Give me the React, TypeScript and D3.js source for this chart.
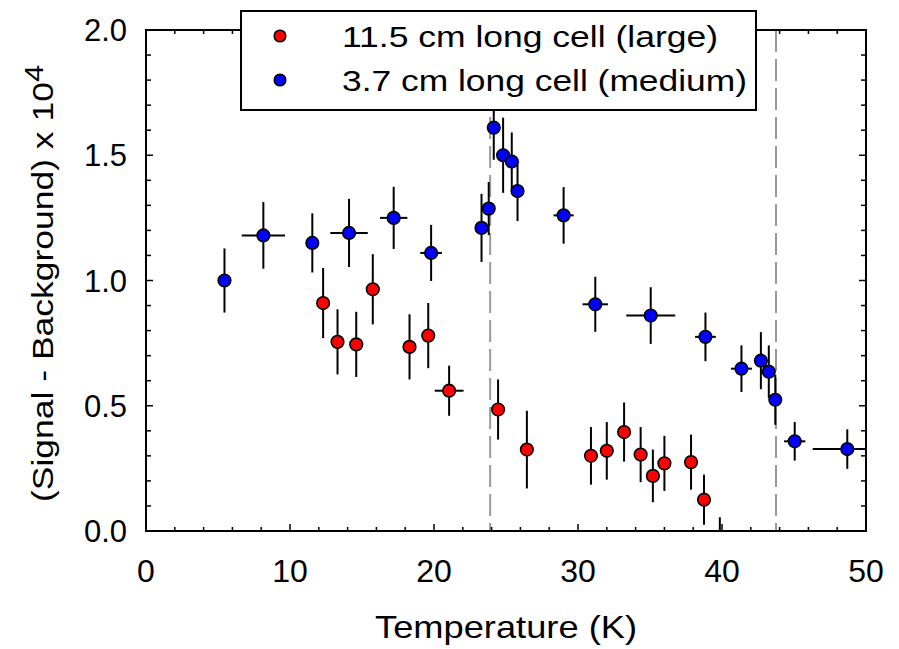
import { useEffect, useRef } from "react";
import * as d3 from "d3";

// 11.5 cm long cell (large) - red
const redT = [12.3, 13.3, 14.6, 15.75, 18.3, 19.6, 21.05, 24.45, 26.45, 30.9, 32.0, 33.2, 34.35, 35.2, 36.0, 37.85, 38.75, 39.85];
const redV = [0.91, 0.755, 0.745, 0.965, 0.735, 0.78, 0.56, 0.485, 0.325, 0.3, 0.32, 0.395, 0.305, 0.22, 0.27, 0.275, 0.125, -0.05];
const redErr = [0.14, 0.13, 0.13, 0.14, 0.13, 0.13, 0.1, 0.12, 0.155, 0.115, 0.115, 0.118, 0.11, 0.105, 0.11, 0.11, 0.1, 0.105];
const redXErr = [0, 0, 0, 0, 0, 0, 1.0, 0, 0, 0, 0, 0, 0, 0, 0, 0, 0, 0];

// 3.7 cm long cell (medium) - blue
const blueT = [5.45, 8.15, 11.55, 14.1, 17.2, 19.8, 23.3, 23.8, 24.15, 24.8, 25.4, 25.8, 29.0, 31.2, 35.05, 38.85, 41.35, 42.7, 43.25, 43.7, 45.05, 48.7];
const blueV = [1.0, 1.18, 1.15, 1.19, 1.25, 1.11, 1.21, 1.287, 1.61, 1.5, 1.475, 1.357, 1.26, 0.905, 0.86, 0.775, 0.648, 0.68, 0.636, 0.524, 0.358, 0.327];
const blueErr = [0.128, 0.133, 0.118, 0.136, 0.124, 0.112, 0.136, 0.106, 0.128, 0.15, 0.116, 0.12, 0.113, 0.11, 0.113, 0.097, 0.093, 0.114, 0.105, 0.1, 0.077, 0.079];
const blueXErr = [0, 1.5, 0, 1.3, 0.95, 0.75, 0, 0, 0, 0, 0, 0, 0.7, 0.88, 1.7, 0.72, 0.73, 0, 0, 0, 0.74, 2.4];

const xTicks = [0, 10, 20, 30, 40, 50];
const yTicks = [0.0, 0.5, 1.0, 1.5, 2.0];
const transitions = [23.9, 43.75];
const legendLabels = ["11.5 cm long cell (large)", "3.7 cm long cell (medium)"];
const seriesColors = ["#ff0000", "#0000ff"];

const W = 899;
const H = 649;
const FONT = "'Liberation Sans', Arial, sans-serif";

export default function App() {
  const ref = useRef<SVGSVGElement | null>(null);

  useEffect(() => {
    const svg = d3.select(ref.current);
    svg.selectAll("*").remove();

    const margin = { top: 30, right: 33, bottom: 118, left: 146 };
    const x = d3.scaleLinear().domain([0, 50]).range([margin.left, W - margin.right]);
    const y = d3.scaleLinear().domain([0, 2]).range([H - margin.bottom, margin.top]);
    const [x0, x1] = x.range();
    const [y0, y1] = y.range();

    svg.append("defs").append("clipPath").attr("id", "plot-clip")
      .append("rect").attr("x", x0).attr("y", y1).attr("width", x1 - x0).attr("height", y0 - y1);

    // dashed transition lines
    svg.append("g").selectAll("line").data(transitions).join("line")
      .attr("x1", (d) => x(d)).attr("x2", (d) => x(d))
      .attr("y1", y1).attr("y2", y0)
      .attr("stroke", "#999").attr("stroke-width", 2)
      .attr("stroke-dasharray", "22,7");

    const series = [
      { t: redT, v: redV, e: redErr, xe: redXErr, color: seriesColors[0] },
      { t: blueT, v: blueV, e: blueErr, xe: blueXErr, color: seriesColors[1] },
    ];

    const plot = svg.append("g").attr("clip-path", "url(#plot-clip)");
    series.forEach((s) => {
      const pts = s.t.map((t, i) => ({ t, v: s.v[i], e: s.e[i], xe: s.xe[i] }));
      const g = plot.append("g");
      g.selectAll("line.ey").data(pts).join("line").attr("class", "ey")
        .attr("x1", (d) => x(d.t)).attr("x2", (d) => x(d.t))
        .attr("y1", (d) => y(d.v - d.e)).attr("y2", (d) => y(d.v + d.e))
        .attr("stroke", "#000").attr("stroke-width", 2);
      g.selectAll("line.ex").data(pts.filter((d) => d.xe > 0)).join("line").attr("class", "ex")
        .attr("x1", (d) => x(d.t - d.xe)).attr("x2", (d) => x(d.t + d.xe))
        .attr("y1", (d) => y(d.v)).attr("y2", (d) => y(d.v))
        .attr("stroke", "#000").attr("stroke-width", 2);
    });
    series.forEach((s) => {
      plot.append("g").selectAll("circle").data(s.t.map((t, i) => ({ t, v: s.v[i] }))).join("circle")
        .attr("cx", (d) => x(d.t)).attr("cy", (d) => y(d.v)).attr("r", 6.3)
        .attr("fill", s.color).attr("stroke", "#000").attr("stroke-width", 1.6);
    });

    // ticks on all four sides, pointing inward
    const axes = svg.append("g").attr("stroke", "#000").attr("stroke-width", 1.5);
    d3.range(0, 50.01, 2).forEach((t) => {
      const len = t % 10 === 0 ? 7 : 4;
      axes.append("line").attr("x1", x(t)).attr("x2", x(t)).attr("y1", y0).attr("y2", y0 - len);
      axes.append("line").attr("x1", x(t)).attr("x2", x(t)).attr("y1", y1).attr("y2", y1 + len);
    });
    d3.range(0, 20.01, 1).forEach((k) => {
      const v = k / 10;
      const len = k % 5 === 0 ? 7 : 5;
      axes.append("line").attr("x1", x0).attr("x2", x0 + len).attr("y1", y(v)).attr("y2", y(v));
      axes.append("line").attr("x1", x1).attr("x2", x1 - len).attr("y1", y(v)).attr("y2", y(v));
    });

    svg.append("rect").attr("x", x0).attr("y", y1).attr("width", x1 - x0).attr("height", y0 - y1)
      .attr("fill", "none").attr("stroke", "#000").attr("stroke-width", 2);

    // tick labels
    svg.append("g").selectAll("text").data(xTicks).join("text")
      .attr("x", (d) => x(d)).attr("y", 582)
      .attr("text-anchor", "middle").attr("font-family", FONT).attr("font-size", 32)
      .text((d) => String(d));
    svg.append("g").selectAll("text").data(yTicks).join("text")
      .attr("x", 127).attr("y", (d) => y(d)).attr("dy", "0.36em")
      .attr("text-anchor", "end").attr("font-family", FONT).attr("font-size", 31)
      .text((d) => d3.format(".1f")(d));

    // axis titles
    svg.append("text").attr("x", (x0 + x1) / 2).attr("y", 638)
      .attr("text-anchor", "middle").attr("font-family", FONT).attr("font-size", 32)
      .attr("textLength", 262).attr("lengthAdjust", "spacingAndGlyphs")
      .text("Temperature (K)");

    const yl = svg.append("text")
      .attr("transform", `translate(53,${(y0 + y1) / 2 + 3}) rotate(-90)`)
      .attr("text-anchor", "middle").attr("font-family", FONT).attr("font-size", 30)
      .attr("textLength", 437).attr("lengthAdjust", "spacingAndGlyphs");
    yl.append("tspan").text("(Signal - Background) x 10");
    yl.append("tspan").attr("dy", -10).attr("font-size", 26).text("4");

    // legend
    const lg = svg.append("g");
    lg.append("rect").attr("x", 241).attr("y", 11).attr("width", 515).attr("height", 99)
      .attr("fill", "#fff").attr("stroke", "#000").attr("stroke-width", 2);
    legendLabels.forEach((label, i) => {
      const cy = 36 + i * 44;
      lg.append("circle").attr("cx", 280).attr("cy", cy).attr("r", 5.8)
        .attr("fill", seriesColors[i]).attr("stroke", "#000").attr("stroke-width", 1.5);
      lg.append("text").attr("x", 342).attr("y", cy + 11)
        .attr("font-family", FONT).attr("font-size", 30)
        .attr("textLength", i === 0 ? 376 : 405).attr("lengthAdjust", "spacingAndGlyphs")
        .text(label);
    });
  }, []);

  return (
    <svg
      ref={ref}
      width={W}
      height={H}
      viewBox={`0 0 ${W} ${H}`}
      style={{ position: "absolute", left: 0, top: 0, background: "#fff" }}
    />
  );
}
